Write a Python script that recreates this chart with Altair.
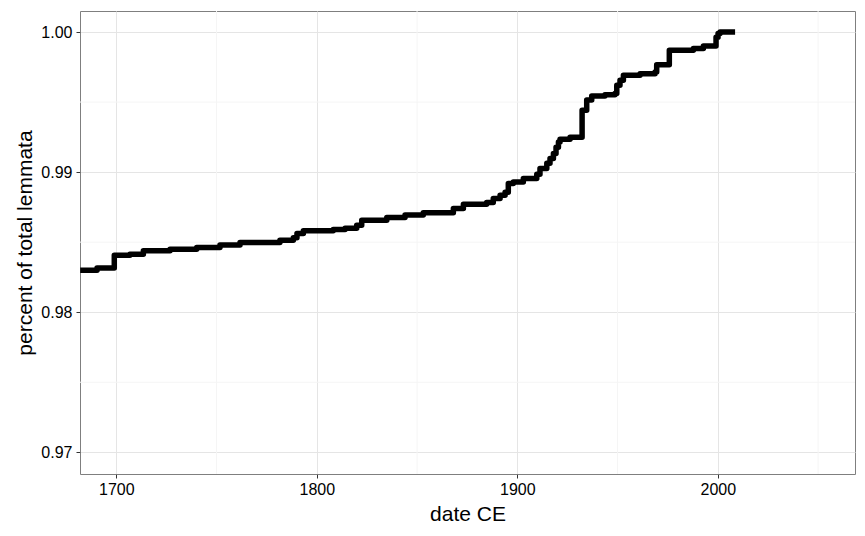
import altair as alt
import pandas as pd

# step points (year where level starts, cumulative share)
years = [1682.0, 1690.4, 1699.0, 1706.8, 1713.5, 1726.8, 1740.1, 1751.7, 1761.7,
         1781.6, 1788.3, 1790.1, 1793.3, 1808.2, 1814.1, 1819.9, 1822.4, 1834.9,
         1844.0, 1853.1, 1868.1, 1873.1, 1884.7, 1888.0, 1891.4, 1893.9, 1895.5,
         1898.0, 1903.0, 1909.7, 1911.3, 1914.7, 1916.3, 1918.0, 1919.3, 1920.5,
         1921.3, 1926.3, 1932.3, 1934.6, 1937.1, 1943.7, 1948.7, 1949.6, 1951.2,
         1952.9, 1961.2, 1968.7, 1969.5, 1975.8, 1987.8, 1992.8, 1999.1, 2000.1,
         2001.1, 2008.6]
shares = [0.98300, 0.98315, 0.98407, 0.98414, 0.98438, 0.98450, 0.98462, 0.98479, 0.98498,
          0.98514, 0.98531, 0.98562, 0.98581, 0.98591, 0.98600, 0.98621, 0.98657, 0.98676,
          0.98693, 0.98709, 0.98740, 0.98771, 0.98783, 0.98812, 0.98835, 0.98857, 0.98919,
          0.98930, 0.98954, 0.98985, 0.99026, 0.99063, 0.99097, 0.99133, 0.99178, 0.99215,
          0.99235, 0.99249, 0.99442, 0.99514, 0.99544, 0.99552, 0.99561, 0.99620, 0.99655,
          0.99691, 0.99702, 0.99715, 0.99767, 0.99869, 0.99882, 0.99900, 0.99962, 0.99989,
          1.00000, 1.00000]

x_major = [1700, 1800, 1900, 2000]
x_minor = [1750, 1850, 1950, 2050]
y_major = [0.97, 0.98, 0.99, 1.00]
y_minor = [0.975, 0.985, 0.995]

x_domain = [1681.9, 2068.4]
y_domain = [0.96845, 1.0015]

df = pd.DataFrame({"year": years, "share": shares})
xs = alt.Scale(domain=x_domain, nice=False, zero=False)
ys = alt.Scale(domain=y_domain, nice=False, zero=False)

font = "Liberation Sans"

vminor = alt.Chart(pd.DataFrame({"x": x_minor})).mark_rule(
    color="#F5F5F5", strokeWidth=1
).encode(x=alt.X("x:Q", scale=xs))
hminor = alt.Chart(pd.DataFrame({"y": y_minor})).mark_rule(
    color="#F5F5F5", strokeWidth=1
).encode(y=alt.Y("y:Q", scale=ys))

line = alt.Chart(df).mark_line(
    interpolate="step-after", color="black", strokeWidth=5.5, clip=True,
    strokeJoin="round", strokeCap="butt"
).encode(
    x=alt.X("year:Q", scale=xs, title="date CE",
            axis=alt.Axis(values=x_major, format="d", grid=True, gridColor="#E5E5E5",
                          domain=False, tickColor="#333333", tickSize=4,
                          labelPadding=3, labelFontSize=16, labelColor="black",
                          labelFont=font, titleFont=font, titleFontSize=21,
                          titleFontWeight="normal", titleColor="black", titlePadding=6)),
    y=alt.Y("share:Q", scale=ys, title="percent of total lemmata",
            axis=alt.Axis(values=y_major, format=".2f", grid=True, gridColor="#E5E5E5",
                          domain=False, tickColor="#333333", tickSize=4,
                          labelPadding=4, labelFontSize=16, labelColor="black",
                          labelFont=font, titleFont=font, titleFontSize=21,
                          titleFontWeight="normal", titleColor="black", titlePadding=5)),
)

chart = alt.layer(vminor, hminor, line).properties(
    width=775, height=463,
    background="white",
    autosize=alt.AutoSizeParams(type="none"),
    padding={"left": 72, "top": 3, "right": 2, "bottom": 54},
).configure_view(stroke="#7F7F7F", strokeWidth=1)

chart.save("out.html", embed_options={"renderer": "svg", "actions": False})
